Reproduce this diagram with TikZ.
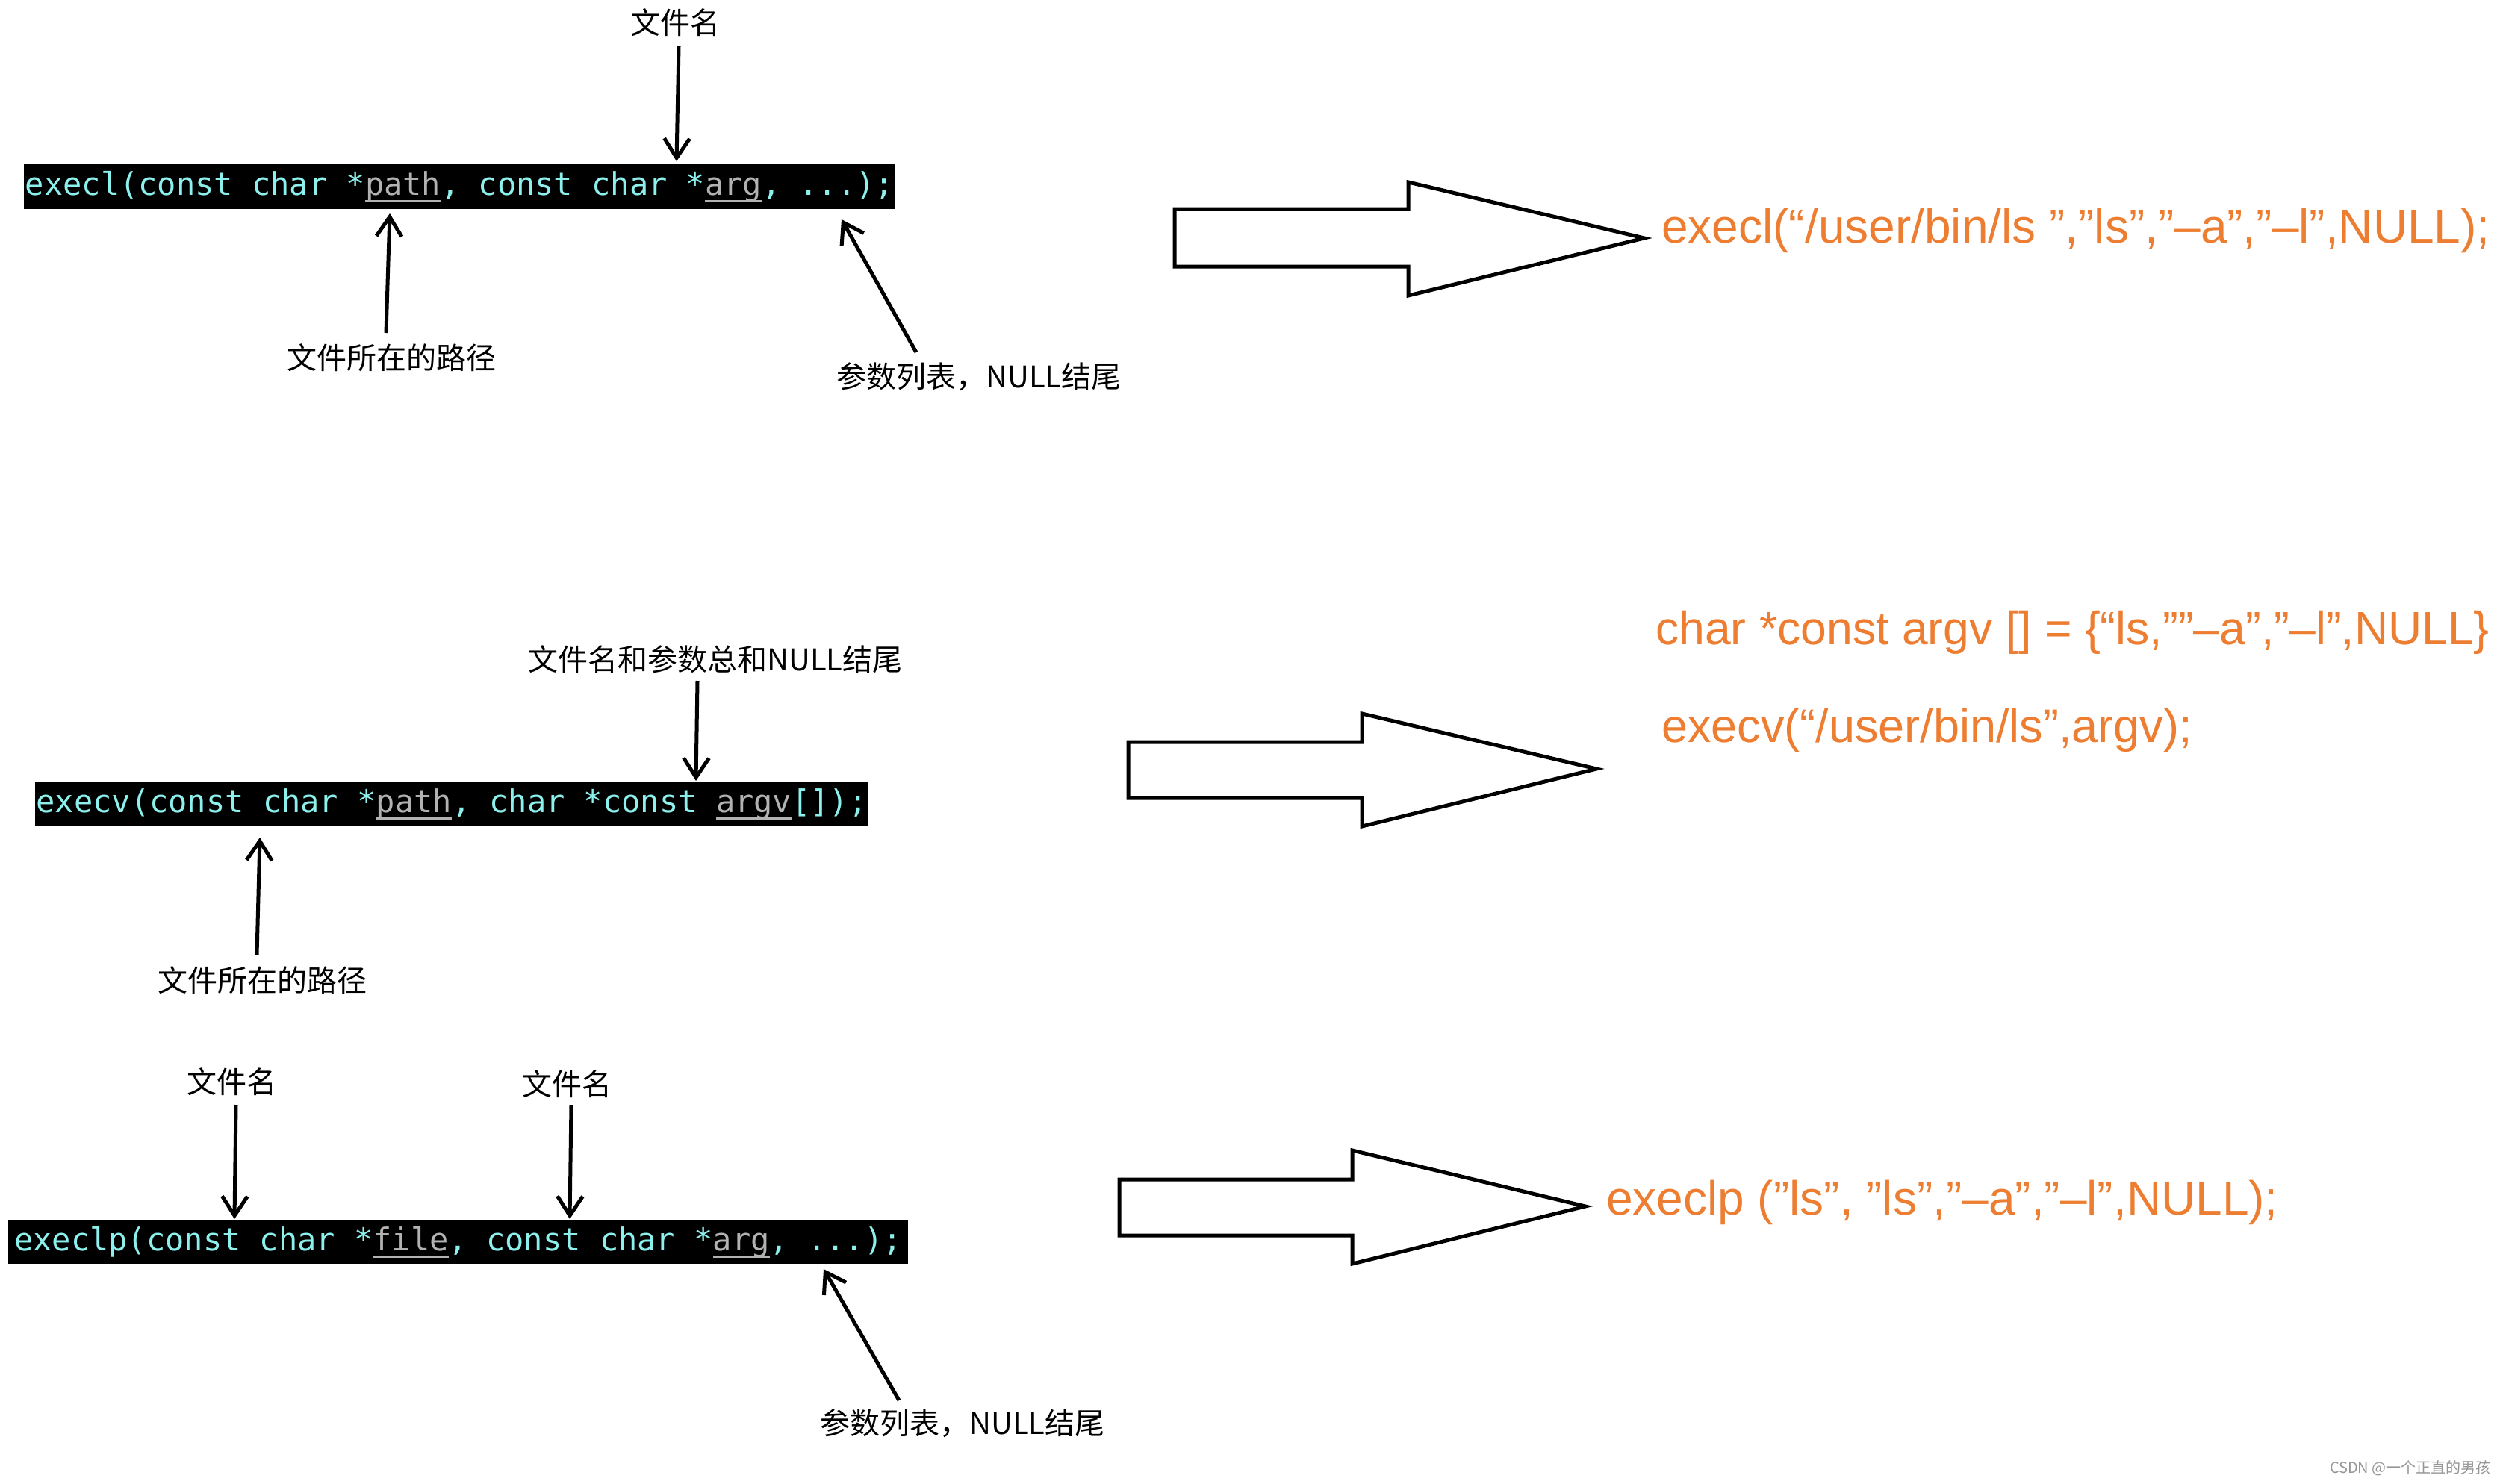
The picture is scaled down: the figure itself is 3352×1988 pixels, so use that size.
\documentclass[tikz,border=0pt]{standalone}
\usepackage{fontspec}
\setmainfont{Liberation Sans}
\setmonofont{DejaVu Sans Mono}
\newfontfamily\cjk{Noto Sans CJK SC}
\usetikzlibrary{arrows.meta}
\definecolor{codecyan}{RGB}{140,240,236}
\definecolor{codegray}{RGB}{178,178,178}
\definecolor{codeorange}{RGB}{237,125,49}
\definecolor{wmgray}{RGB}{150,150,150}
\newcommand{\ulg}[1]{\textcolor{codegray}{\setbox0\hbox{#1}\rlap{\rule[-10pt]{\wd0}{3.5pt}}\box0}}
\tikzset{
  codebox/.style={fill=black, text=codecyan, inner sep=0pt,
    font=\fontsize{42}{42}\ttfamily},
  lbl/.style={font=\cjk\fontsize{40}{40}\selectfont, inner sep=0pt},
  outtext/.style={font=\fontsize{64}{64}\selectfont, text=codeorange, inner sep=0pt, anchor=base west},
  conn/.style={line width=5pt, -{Straight Barb[length=26pt,width=34pt]}},
  bigarrow/.style={line width=5pt, line join=miter, miter limit=10}
}
\begin{document}
\begin{tikzpicture}[x=1pt,y=-1pt]
\useasboundingbox[fill=white] (0,0) rectangle (3352,1988);

% ---------- execl ----------
\node[codebox, minimum width=1167pt, minimum height=60pt] (code1) at (615.5,250)
  {execl(const char *\ulg{path}, const char *\ulg{arg}, ...);};
\node[lbl] (L1) at (904,30) {文件名};
\node[lbl] (L2) at (524,479) {文件所在的路径};
\node[lbl] (L3) at (1311,505) {参数列表，NULL结尾};
\coordinate (s1) at (909,62);   \coordinate (a1) at (906,216);
\coordinate (s2) at (517,446);  \coordinate (a2) at (522,286);
\coordinate (s3) at (1227,472); \coordinate (a3) at (1127,294);
\draw[conn] (s1) -- (a1);
\draw[conn] (s2) -- (a2);
\draw[conn] (s3) -- (a3);
\draw[bigarrow] (1573,280) -- (1886,280) -- (1886,244) -- (2202,319) -- (1886,396) -- (1886,357) -- (1573,357) -- cycle;
\node[outtext] (O1) at (2225,325) {execl(“/user/bin/ls ”,”ls”,”–a”,”–l”,NULL);};

% ---------- execv ----------
\node[lbl] (L4) at (958,883) {文件名和参数总和NULL结尾};
\node[codebox, minimum width=1116pt, minimum height=59pt] (code2) at (605,1077.5)
  {execv(const char *\ulg{path}, char *const \ulg{argv}[]);};
\node[lbl] (L5) at (351,1313) {文件所在的路径};
\coordinate (s4) at (934,912);  \coordinate (a4) at (932,1046);
\coordinate (s5) at (344,1279); \coordinate (a5) at (348,1122);
\draw[conn] (s4) -- (a4);
\draw[conn] (s5) -- (a5);
\draw[bigarrow] (1511,994) -- (1824,994) -- (1824,956) -- (2138,1030) -- (1824,1107) -- (1824,1069) -- (1511,1069) -- cycle;
\node[outtext, font=\fontsize{62.5}{62.5}\selectfont] (O2) at (2217,863) {char *const argv [] = \{“ls,””–a”,”–l”,NULL\}};
\node[outtext, font=\fontsize{63}{63}\selectfont] (O3) at (2225,994) {execv(“/user/bin/ls”,argv);};

% ---------- execlp ----------
\node[lbl] (L6) at (310,1449) {文件名};
\node[lbl] (L7) at (759,1452) {文件名};
\node[codebox, minimum width=1205pt, minimum height=58pt] (code3) at (613.5,1664)
  {execlp(const char *\ulg{file}, const char *\ulg{arg}, ...);};
\node[lbl] (L8) at (1289,1907) {参数列表，NULL结尾};
\coordinate (s6) at (316,1480); \coordinate (a6) at (314,1633);
\coordinate (s7) at (765,1480); \coordinate (a7) at (763,1633);
\coordinate (s8) at (1204,1876); \coordinate (a8) at (1103,1700);
\draw[conn] (s6) -- (a6);
\draw[conn] (s7) -- (a7);
\draw[conn] (s8) -- (a8);
\draw[bigarrow] (1499,1580) -- (1811,1580) -- (1811,1541) -- (2123,1616) -- (1811,1693) -- (1811,1655) -- (1499,1655) -- cycle;
\node[outtext] (O4) at (2151,1627) {execlp (”ls”, ”ls”,”–a”,”–l”,NULL);};

% watermark
\node[font=\cjk\fontsize{20}{20}\selectfont, text=wmgray, inner sep=0pt, anchor=east] (wm) at (3336,1967) {CSDN @一个正直的男孩};
\end{tikzpicture}
\end{document}
